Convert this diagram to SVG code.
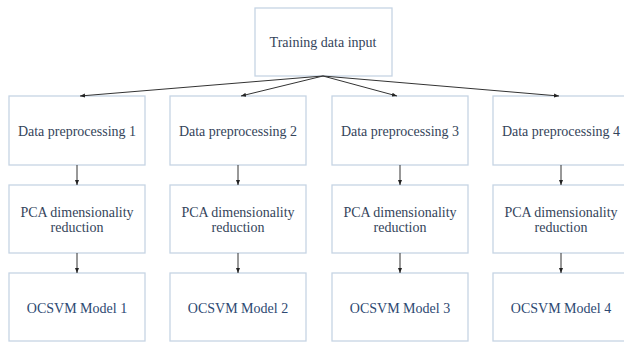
<svg xmlns="http://www.w3.org/2000/svg" width="624" height="343" viewBox="0 0 624 343">
<defs>
<marker id="ah" viewBox="0 0 10 10" refX="10" refY="5" markerWidth="5" markerHeight="5" markerUnits="userSpaceOnUse" orient="auto">
<path d="M0,1 L10,5 L0,9 Z" fill="#222"/>
</marker>
<style>
.box{fill:#fff;stroke:#c6d4e4;stroke-width:1.3}
.t{font-family:"Liberation Serif","Times New Roman",serif;font-size:14px;fill:#34445a;text-anchor:middle}
.m{fill:#2d4872}
.c{stroke:#333;stroke-width:1;fill:none;marker-end:url(#ah)}
</style>
</defs>
<rect width="624" height="343" fill="#fff"/>
<g id="input"><rect class="box" x="255" y="8" width="137" height="68"/><text class="t" x="323" y="47">Training data input</text></g>
<g id="pre1"><rect class="box" x="9" y="96" width="136" height="69"/><text class="t" x="77" y="136">Data preprocessing 1</text></g>
<g id="pre2"><rect class="box" x="170" y="96" width="136" height="69"/><text class="t" x="238" y="136">Data preprocessing 2</text></g>
<g id="pre3"><rect class="box" x="332" y="96" width="136" height="69"/><text class="t" x="400" y="136">Data preprocessing 3</text></g>
<g id="pre4"><rect class="box" x="493" y="96" width="136" height="69"/><text class="t" x="561" y="136">Data preprocessing 4</text></g>
<g id="pca1"><rect class="box" x="9" y="185" width="136" height="68"/><text class="t" x="77" y="217">PCA dimensionality</text><text class="t" x="77" y="232">reduction</text></g>
<g id="pca2"><rect class="box" x="170" y="185" width="136" height="68"/><text class="t" x="238" y="217">PCA dimensionality</text><text class="t" x="238" y="232">reduction</text></g>
<g id="pca3"><rect class="box" x="332" y="185" width="136" height="68"/><text class="t" x="400" y="217">PCA dimensionality</text><text class="t" x="400" y="232">reduction</text></g>
<g id="pca4"><rect class="box" x="493" y="185" width="136" height="68"/><text class="t" x="561" y="217">PCA dimensionality</text><text class="t" x="561" y="232">reduction</text></g>
<g id="svm1"><rect class="box" x="9" y="273" width="136" height="68"/><text class="t m" x="77" y="313">OCSVM Model 1</text></g>
<g id="svm2"><rect class="box" x="170" y="273" width="136" height="68"/><text class="t m" x="238" y="313">OCSVM Model 2</text></g>
<g id="svm3"><rect class="box" x="332" y="273" width="136" height="68"/><text class="t m" x="400" y="313">OCSVM Model 3</text></g>
<g id="svm4"><rect class="box" x="493" y="273" width="136" height="68"/><text class="t m" x="561" y="313">OCSVM Model 4</text></g>
<g id="connectors">
<line class="c" x1="323" y1="76" x2="80" y2="96"/>
<line class="c" x1="323" y1="76" x2="241" y2="96"/>
<line class="c" x1="323" y1="76" x2="397" y2="96"/>
<line class="c" x1="323" y1="76" x2="559" y2="96"/>
<line class="c" x1="77" y1="165" x2="77" y2="185"/>
<line class="c" x1="238" y1="165" x2="238" y2="185"/>
<line class="c" x1="400" y1="165" x2="400" y2="185"/>
<line class="c" x1="561" y1="165" x2="561" y2="185"/>
<line class="c" x1="77" y1="253" x2="77" y2="273"/>
<line class="c" x1="238" y1="253" x2="238" y2="273"/>
<line class="c" x1="400" y1="253" x2="400" y2="273"/>
<line class="c" x1="561" y1="253" x2="561" y2="273"/>
</g>
</svg>
